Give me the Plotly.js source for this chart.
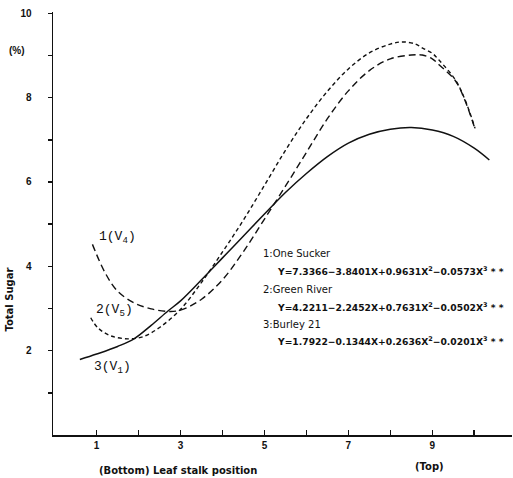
<!DOCTYPE html>
<html>
<head>
<meta charset="utf-8">
<script src="https://cdn.plot.ly/plotly-3.0.1.min.js"></script>
<style>html,body{margin:0;padding:0;background:#fff;}#chart{width:513px;height:478px;}</style>
</head>
<body>
<div id="chart"></div>
<script>
// Curve 1: One Sucker (V4) - long dash
var x1 = [0.9, 1.2, 1.5, 1.9, 2.3, 2.7, 3.0, 3.5, 4.0, 4.5, 5.0, 5.5, 6.0, 6.5, 7.0, 7.5, 8.0, 8.5, 8.76, 9.0, 9.16, 9.55, 9.78, 10.02];
var y1 = [4.52, 3.85, 3.41, 3.13, 2.99, 2.93, 2.96, 3.22, 3.68, 4.35, 5.12, 5.9, 6.7, 7.5, 8.16, 8.64, 8.92, 9.01, 9.01, 8.92, 8.78, 8.4, 7.93, 7.25];
// Curve 2: Green River (V5) - short dash
var x2 = [0.86, 1.03, 1.34, 1.75, 2.1, 2.5, 3.0, 3.5, 4.0, 4.5, 5.0, 5.5, 6.0, 6.5, 7.0, 7.5, 8.0, 8.3, 8.6, 8.76, 9.0, 9.16, 9.55, 9.78, 10.02];
var y2 = [2.78, 2.54, 2.35, 2.28, 2.33, 2.55, 2.98, 3.62, 4.34, 5.1, 5.92, 6.75, 7.5, 8.15, 8.68, 9.06, 9.27, 9.32, 9.27, 9.18, 9.05, 8.89, 8.42, 7.95, 7.27];
// Curve 3: Burley 21 (V1) - solid
var x3 = [0.6, 1.0, 1.5, 1.89, 2.3, 2.7, 3.0, 3.5, 4.0, 4.5, 5.0, 5.5, 6.0, 6.5, 7.0, 7.5, 8.0, 8.5, 9.0, 9.5, 10.0, 10.36];
var y3 = [1.79, 1.92, 2.1, 2.28, 2.6, 2.94, 3.18, 3.68, 4.2, 4.72, 5.24, 5.75, 6.2, 6.6, 6.92, 7.13, 7.25, 7.29, 7.23, 7.08, 6.8, 6.52];

var xTickVals = [1, 3, 5, 7, 9];
var xMinorVals = [2, 4, 6, 8, 10, 11];
var yTickVals = [2, 4, 6, 8, 10];
var yMinorVals = [1, 3, 5, 7, 9];

var curveLabels = ['1(V<sub>4</sub>)', '2(V<sub>5</sub>)', '3(V<sub>1</sub>)'];
var eqHeads = ['1:One Sucker', '2:Green River', '3:Burley 21'];
var eqTexts = [
  'Y=7.3366\u22123.8401X+0.9631X<sup>2</sup>\u22120.0573X<sup>3</sup> * *',
  'Y=4.2211\u22122.2452X+0.7631X<sup>2</sup>\u22120.0502X<sup>3</sup> * *',
  'Y=1.7922\u22120.1344X+0.2636X<sup>2</sup>\u22120.0201X<sup>3</sup> * *'
];

var L = 52.5, T = 12, W = 459.5, H = 423;
function px(x) { return (x - L) / W; }
function py(y) { return (T + H - y) / H; }

var font = 'Liberation Sans, Arial, sans-serif';
var wide = 'DejaVu Sans, Verdana, sans-serif';
var mono = 'Liberation Mono, Courier New, monospace';

var traces = [
  {x: x1, y: y1, mode: 'lines', line: {color: '#111', width: 1.4, dash: '7px,4px', shape: 'spline'}, hoverinfo: 'skip'},
  {x: x2, y: y2, mode: 'lines', line: {color: '#111', width: 1.4, dash: '4px,3px', shape: 'spline'}, hoverinfo: 'skip'},
  {x: x3, y: y3, mode: 'lines', line: {color: '#111', width: 1.5, shape: 'spline'}, hoverinfo: 'skip'}
];

var ann = [];
function add(text, x, y, opts) {
  var a = {text: text, x: px(x), y: py(y), xref: 'paper', yref: 'paper', showarrow: false,
    xanchor: 'left', yanchor: 'middle', font: {family: font, size: 10, color: '#111'}};
  for (var k in opts) a[k] = opts[k];
  ann.push(a);
}
add('<b>(%)</b>', 16, 50, {xanchor: 'center'});
add('<b>Total Sugar</b>', 8, 300, {xanchor: 'center', textangle: -90, font: {family: wide, size: 10, color: '#111'}});
add('<b>(Bottom) Leaf stalk position</b>', 97, 470, {font: {family: wide, size: 10, color: '#111'}});
add('<b>(Top)</b>', 429, 466, {xanchor: 'center', font: {family: wide, size: 10, color: '#111'}});
var labelX = [97, 94, 92], labelY = [237, 310, 367];
for (var i = 0; i < 3; i++) {
  add(curveLabels[i], labelX[i], labelY[i], {font: {family: mono, size: 13, color: '#111'}});
}
var headY = [254, 289, 324], eqY = [271, 307, 341];
for (var j = 0; j < 3; j++) {
  add(eqHeads[j], 261, headY[j], {font: {family: wide, size: 10, color: '#111'}});
  add('<b>' + eqTexts[j] + '</b>', 275, eqY[j], {font: {family: wide, size: 9.2, color: '#111'}});
}

var layout = {
  width: 513, height: 478,
  margin: {l: L, r: 513 - L - W, t: T, b: 478 - T - H, pad: 0},
  paper_bgcolor: '#fff', plot_bgcolor: '#fff',
  showlegend: false,
  font: {family: font, size: 10, color: '#111'},
  xaxis: {range: [-0.04, 10.9], showgrid: false, zeroline: false, showline: true, linecolor: '#111', linewidth: 1.5,
    tickmode: 'array', tickvals: xTickVals, ticks: 'inside', ticklen: 5, tickwidth: 1.5, tickcolor: '#111',
    minor: {tickmode: 'array', tickvals: xMinorVals, ticks: 'inside', ticklen: 5, tickwidth: 1.5, tickcolor: '#111', showgrid: false},
    tickfont: {family: font, size: 10, color: '#111', weight: 'bold'}, fixedrange: true},
  yaxis: {range: [0, 10.03], showgrid: false, zeroline: false, showline: true, linecolor: '#111', linewidth: 1.5,
    tickmode: 'array', tickvals: yTickVals, ticks: 'outside', ticklen: 4, tickwidth: 1.5, tickcolor: '#111',
    minor: {tickmode: 'array', tickvals: yMinorVals, ticks: 'outside', ticklen: 4, tickwidth: 1.5, tickcolor: '#111', showgrid: false},
    ticklabelstandoff: 14,
    tickfont: {family: font, size: 10, color: '#111', weight: 'bold'}, fixedrange: true},
  annotations: ann
};

Plotly.newPlot('chart', traces, layout, {displayModeBar: false, staticPlot: true});
</script>
</body>
</html>
